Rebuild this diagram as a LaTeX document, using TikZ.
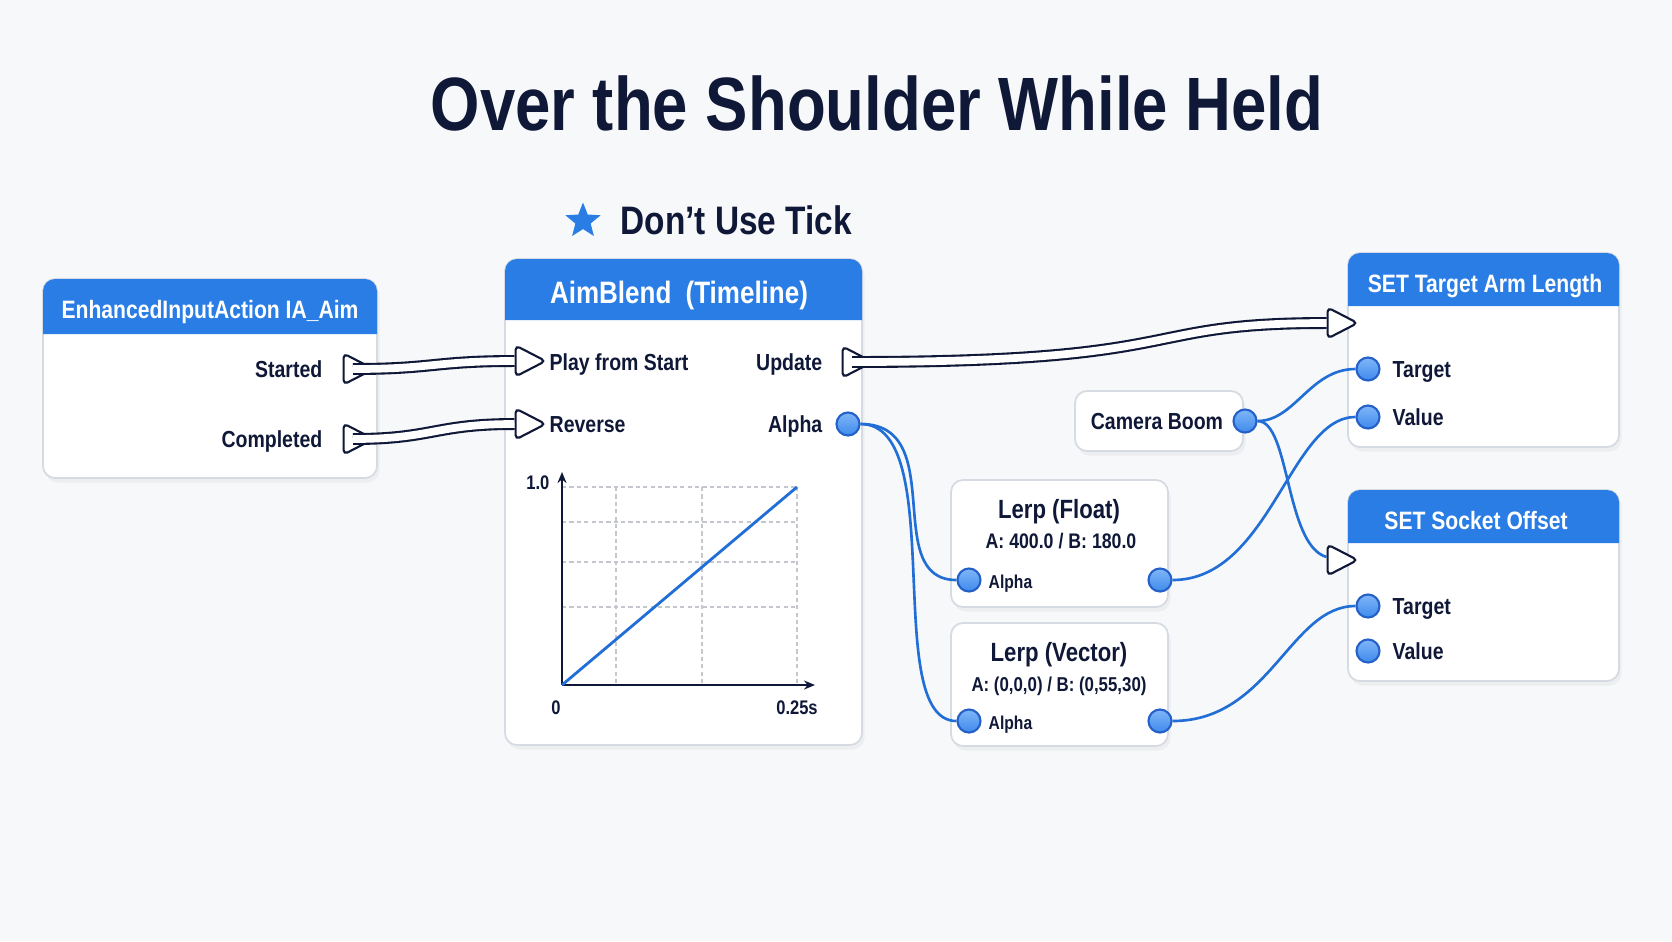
\documentclass[tikz,border=0pt]{standalone}
\usepackage{fontspec}
\setmainfont{Liberation Sans}[FakeStretch=0.84]
\usetikzlibrary{shapes.geometric,arrows.meta,shadows}

\definecolor{bgcol}{RGB}{247,248,250}
\definecolor{ink}{RGB}{16,24,56}
\definecolor{hdrblue}{RGB}{42,125,228}
\definecolor{wireblue}{RGB}{32,110,214}
\definecolor{pinlight}{RGB}{128,182,248}
\definecolor{pindark}{RGB}{62,138,236}
\definecolor{pinedge}{RGB}{36,96,200}
\definecolor{boxline}{RGB}{214,218,226}
\definecolor{gridgray}{RGB}{196,199,206}

\begin{document}
\begin{tikzpicture}[x=0.01cm, y=-0.01cm, text=ink, inner sep=0pt,
    box/.style={draw=boxline, line width=0.5pt, fill=white, rounded corners=1.2mm,
        drop shadow={opacity=0.08, shadow xshift=0.25mm, shadow yshift=-0.45mm}},
    hdrtxt/.style={text=white, font=\fontsize{7.15}{9}\selectfont\bfseries},
    pinlbl/.style={font=\fontsize{6.6}{8}\selectfont\bfseries},
    smalllbl/.style={font=\fontsize{5.6}{7}\selectfont\bfseries},
    exec/.style={isosceles triangle, isosceles triangle apex angle=60,
        isosceles triangle stretches, minimum width=3.1mm, minimum height=3.0mm,
        draw=ink, line width=0.6pt, fill=white, rounded corners=0.45mm, inner sep=0},
    datapin/.style={circle, draw=pinedge, line width=0.6pt, top color=pinlight,
        bottom color=pindark, inner sep=0, minimum size=2.3mm},
    tube/.style={draw=white, line width=2.2pt, preaction={draw=ink, line width=3.4pt}},
    wire/.style={draw=wireblue, line width=0.75pt},
    gridline/.style={gridgray, line width=0.35pt, dash pattern=on 1.2pt off 0.9pt}]

    % Background
    \fill[bgcol] (0,0) rectangle (1672,941);

    % Title and note
    \node[font=\fontsize{21.5}{26}\selectfont\bfseries, anchor=mid] (title) at (877,121) {Over the Shoulder While Held};
    \node[star, star points=5, star point ratio=2.3, fill=hdrblue, inner sep=0, minimum size=3.7mm] (star) at (583,221) {};
    \node[font=\fontsize{11.3}{14}\selectfont\bfseries, anchor=mid west] (note) at (620,225) {Don’t Use Tick};

    % EnhancedInputAction IA_Aim
    \path[box] (43,279) rectangle (377,478);
    \fill[hdrblue] (43,334) [rounded corners=1.2mm] -- (43,279) -- (377,279) [sharp corners] -- (377,334) -- cycle;
    \node[hdrtxt, anchor=mid] (aimtitle) at (210,309) {EnhancedInputAction IA\_Aim};
    \node[pinlbl, anchor=mid east] (startedlbl) at (323,368) {Started};
    \node[pinlbl, anchor=mid east] (completedlbl) at (323,438) {Completed};
    \node[exec] (started) at (353,369) {};
    \node[exec] (completed) at (353,439) {};

    % AimBlend (Timeline)
    \path[box] (505,259) rectangle (862,745);
    \fill[hdrblue] (505,320) [rounded corners=1.2mm] -- (505,259) -- (862,259) [sharp corners] -- (862,320) -- cycle;
    \node[text=white, font=\fontsize{8.8}{11}\selectfont\bfseries, anchor=mid] (tltitle) at (679,294) {AimBlend\hspace{2pt} (Timeline)};
    \node[exec] (play) at (525,361) {};
    \node[exec] (reverse) at (525,424) {};
    \node[pinlbl, anchor=mid west] (playlbl) at (549,361) {Play from Start};
    \node[pinlbl, anchor=mid west] (reverselbl) at (549,423) {Reverse};
    \node[pinlbl, anchor=mid east] (updatelbl) at (823,361) {Update};
    \node[pinlbl, anchor=mid east] (alphalbl) at (823,423) {Alpha};
    \node[exec] (update) at (852,362) {};
    \node[datapin] (alpha) at (848,424) {};

    % Timeline curve
    \foreach \gx in {616,702,797}
        \draw[gridline] (\gx,487) -- (\gx,685);
    \foreach \gy in {487,522,562,607}
        \draw[gridline] (562,\gy) -- (797,\gy);
    \draw[ink, line width=0.7pt, -{Stealth[length=1.1mm, width=0.9mm]}] (562,685) -- (562,472);
    \draw[ink, line width=0.7pt, -{Stealth[length=1.1mm, width=0.9mm]}] (562,685) -- (815,685);
    \draw[wireblue, line width=0.8pt] (562,685) -- (797,487);
    \node[smalllbl, anchor=mid east] (ymax) at (550,480) {1.0};
    \node[smalllbl, anchor=mid] (xmin) at (556,705) {0};
    \node[smalllbl, anchor=mid] (xmax) at (797,705) {0.25s};

    % Camera Boom
    \path[box] (1075,391) rectangle (1243,451);
    \node[pinlbl, anchor=mid] (camlbl) at (1157,420) {Camera Boom};
    \node[datapin] (cam) at (1245,421) {};

    % Lerp (Float)
    \path[box] (951,480) rectangle (1168,607);
    \node[font=\fontsize{7.5}{9}\selectfont\bfseries, anchor=mid] (flttitle) at (1059,509) {Lerp (Float)};
    \node[font=\fontsize{6}{7}\selectfont\bfseries, anchor=mid] (fltsub) at (1061,539) {A: 400.0 / B: 180.0};
    \node[datapin] (fltalpha) at (969,580) {};
    \node[font=\fontsize{5.3}{7}\selectfont\bfseries, anchor=mid west] (fltalphalbl) at (988,579) {Alpha};
    \node[datapin] (fltout) at (1160,580) {};

    % Lerp (Vector)
    \path[box] (951,623) rectangle (1168,746);
    \node[font=\fontsize{7.5}{9}\selectfont\bfseries, anchor=mid] (vectitle) at (1059,652) {Lerp (Vector)};
    \node[font=\fontsize{5.7}{7}\selectfont\bfseries, anchor=mid] (vecsub) at (1059,682) {A: (0,0,0) / B: (0,55,30)};
    \node[datapin] (vecalpha) at (969,721) {};
    \node[font=\fontsize{5.3}{7}\selectfont\bfseries, anchor=mid west] (vecalphalbl) at (988,720) {Alpha};
    \node[datapin] (vecout) at (1160,721) {};

    % SET Target Arm Length
    \path[box] (1348,253) rectangle (1619,447);
    \fill[hdrblue] (1348,306) [rounded corners=1.2mm] -- (1348,253) -- (1619,253) [sharp corners] -- (1619,306) -- cycle;
    \node[hdrtxt, anchor=mid] (armtitle) at (1485,283) {SET Target Arm Length};
    \node[exec] (armexec) at (1337,323) {};
    \node[datapin] (armtarget) at (1368,369) {};
    \node[datapin] (armvalue) at (1368,417) {};
    \node[pinlbl, anchor=mid west] (armtargetlbl) at (1392,368) {Target};
    \node[pinlbl, anchor=mid west] (armvaluelbl) at (1392,416) {Value};

    % SET Socket Offset
    \path[box] (1348,490) rectangle (1619,681);
    \fill[hdrblue] (1348,543) [rounded corners=1.2mm] -- (1348,490) -- (1619,490) [sharp corners] -- (1619,543) -- cycle;
    \node[hdrtxt, anchor=mid] (socktitle) at (1476,520) {SET Socket Offset};
    \node[exec] (sockexec) at (1337,560) {};
    \node[datapin] (socktarget) at (1368,606) {};
    \node[datapin] (sockvalue) at (1368,651) {};
    \node[pinlbl, anchor=mid west] (socktargetlbl) at (1392,605) {Target};
    \node[pinlbl, anchor=mid west] (sockvaluelbl) at (1392,650) {Value};

    % Exec wires
    \draw[tube] (started.center) .. controls +(80,0) and +(-80,0) .. (play.west);
    \draw[tube] (completed.center) .. controls +(80,0) and +(-80,0) .. (reverse.west);
    \draw[tube] (update.center) .. controls (1200,362) and (1130,323) .. (armexec.west);

    % Data wires
    \draw[wire] (alpha) .. controls (950,424) and (880,580) .. (fltalpha);
    \draw[wire] (alpha) .. controls (950,424) and (880,721) .. (vecalpha);
    \draw[wire] (cam) .. controls (1295,421) and (1310,369) .. (armtarget);
    \draw[wire] (cam) .. controls (1290,421) and (1285,545) .. (sockexec);
    \draw[wire] (fltout) .. controls (1270,580) and (1290,417) .. (armvalue);
    \draw[wire] (vecout) .. controls (1270,721) and (1290,606) .. (socktarget);
\end{tikzpicture}
\end{document}
